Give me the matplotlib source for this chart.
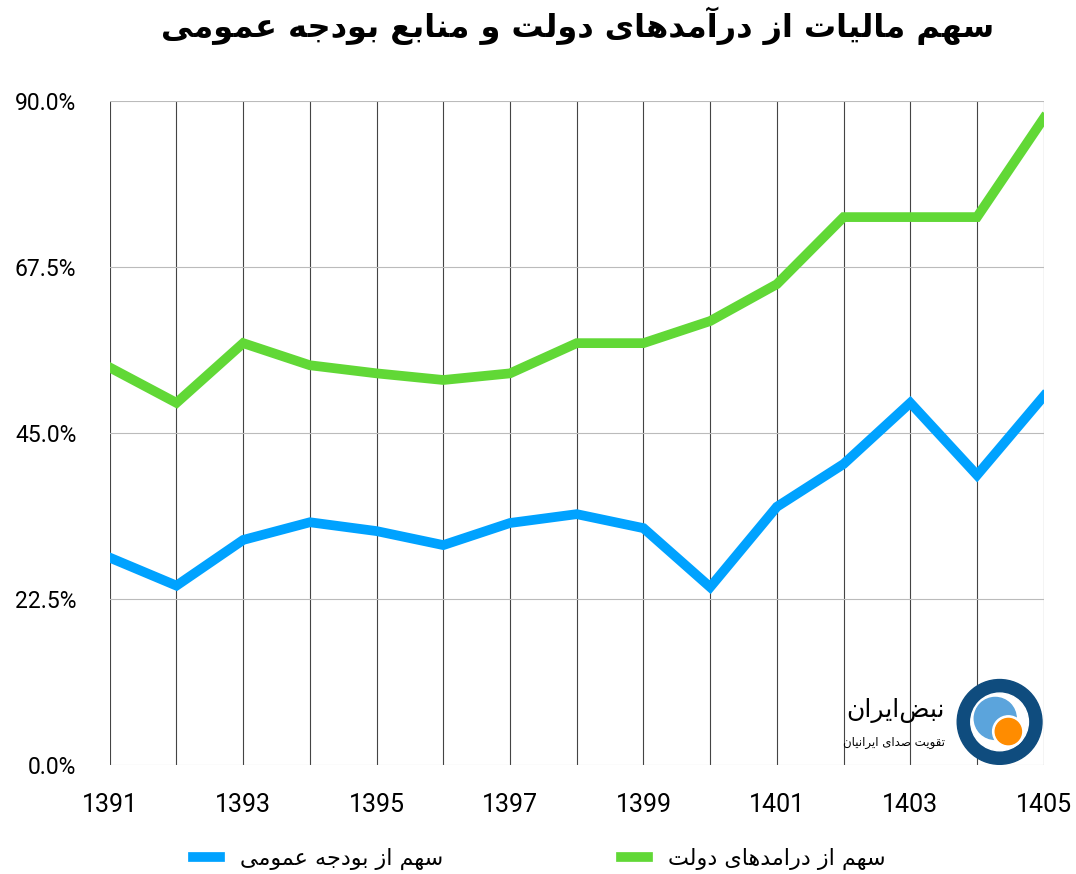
import matplotlib
matplotlib.use("Agg")
import matplotlib.pyplot as plt
from matplotlib.patches import Circle

years = list(range(1391, 1406))
revenue_share = [53.9, 49.1, 57.2, 54.2, 53.1, 52.2, 53.1, 57.2, 57.2, 60.2, 65.2, 74.3, 74.3, 74.3, 87.7]
budget_share = [28.1, 24.3, 30.5, 32.9, 31.7, 29.8, 32.8, 34.0, 32.1, 24.1, 35.0, 40.8, 49.1, 39.3, 50.0]
y_ticks = [0, 22.5, 45, 67.5, 90]

title = "سهم مالیات از درآمدهای دولت و منابع بودجه عمومی"
label_budget = "سهم از بودجه عمومی"
label_revenue = "سهم از درامدهای دولت"
logo_name = "نبض\u200cایران"
logo_tag = "تقویت صدای ایرانیان"

# ── minimal Arabic-script shaper (matplotlib has no shaping) ──────────────────
FORMS = {  # isolated, final, initial, medial
    "ا": (0xFE8D, 0xFE8E), "آ": (0xFE81, 0xFE82), "د": (0xFEA9, 0xFEAA),
    "ر": (0xFEAD, 0xFEAE), "ز": (0xFEAF, 0xFEB0), "و": (0xFEED, 0xFEEE),
    "ب": (0xFE8F, 0xFE90, 0xFE91, 0xFE92), "ت": (0xFE95, 0xFE96, 0xFE97, 0xFE98),
    "ج": (0xFE9D, 0xFE9E, 0xFE9F, 0xFEA0), "س": (0xFEB1, 0xFEB2, 0xFEB3, 0xFEB4),
    "ص": (0xFEB9, 0xFEBA, 0xFEBB, 0xFEBC), "ض": (0xFEBD, 0xFEBE, 0xFEBF, 0xFEC0),
    "ع": (0xFEC9, 0xFECA, 0xFECB, 0xFECC), "ف": (0xFED1, 0xFED2, 0xFED3, 0xFED4),
    "ق": (0xFED5, 0xFED6, 0xFED7, 0xFED8), "ل": (0xFEDD, 0xFEDE, 0xFEDF, 0xFEE0),
    "م": (0xFEE1, 0xFEE2, 0xFEE3, 0xFEE4), "ن": (0xFEE5, 0xFEE6, 0xFEE7, 0xFEE8),
    "ه": (0xFEE9, 0xFEEA, 0xFEEB, 0xFEEC), "ي": (0xFEF1, 0xFEF2, 0xFEF3, 0xFEF4),
    "ی": (0xFBFC, 0xFBFD, 0xFBFE, 0xFBFF),
}


def shape(text):
    out = []
    n = len(text)
    for i, c in enumerate(text):
        if c not in FORMS:
            if c != "\u200c":
                out.append(c)
            continue
        f = FORMS[c]
        prev = text[i - 1] if i > 0 else ""
        nxt = text[i + 1] if i + 1 < n else ""
        jp = prev in FORMS and len(FORMS[prev]) == 4
        jn = len(f) == 4 and nxt in FORMS
        if jp and jn:
            out.append(chr(f[3]))
        elif jp:
            out.append(chr(f[1]))
        elif jn:
            out.append(chr(f[2]))
        else:
            out.append(chr(f[0]))
    return "".join(out)[::-1]


plt.rcParams["font.family"] = ["DejaVu Sans"]

fig = plt.figure(figsize=(10.76, 8.74), dpi=100)
ax = fig.add_axes([0.102, 0.125, 0.868, 0.759])

ax.plot(years, budget_share, color="#00A2FF", lw=7, solid_joinstyle="miter",
        label=shape(label_budget), zorder=3)
ax.plot(years, revenue_share, color="#61D836", lw=7, solid_joinstyle="miter",
        label=shape(label_revenue), zorder=3)

ax.set_xlim(1391, 1405)
ax.set_ylim(0, 90)
ax.set_xticks(years)
ax.set_xticklabels([str(y) if (y - 1391) % 2 == 0 else "" for y in years],
                   fontfamily="Roboto", fontsize=18)
ax.set_yticks(y_ticks)
ax.set_yticklabels([f"{v:.1f}%" for v in y_ticks], fontfamily="Roboto", fontsize=16.5)
ax.tick_params(axis="y", length=0, pad=24)
ax.tick_params(axis="x", length=0, pad=20)
ax.grid(axis="x", color="#444444", lw=0.8)
ax.grid(axis="y", color="#bbbbbb", lw=0.8)
for s in ax.spines.values():
    s.set_visible(False)

fig.text(0.537, 0.971, shape(title), ha="center", va="center", fontsize=23,
         fontweight="bold")

ax.legend(loc="upper center", bbox_to_anchor=(0.46, -0.095), ncol=2, frameon=False,
          fontsize=16, handlelength=1.2, handletextpad=0.9, columnspacing=8)

# logo
lax = fig.add_axes([0.888, 0.124, 0.082, 0.1])
lax.set_aspect("equal")
lax.set_xlim(-1, 1)
lax.set_ylim(-1, 1)
lax.axis("off")
lax.add_patch(Circle((0, 0), 0.97, color="#0F4C7E"))
lax.add_patch(Circle((0, 0), 0.66, color="white"))
lax.add_patch(Circle((-0.1, 0.08), 0.48, color="#5BA4DC"))
lax.add_patch(Circle((0.2, -0.22), 0.36, color="white"))
lax.add_patch(Circle((0.2, -0.22), 0.3, color="#FF8C00"))
fig.text(0.878, 0.187, shape(logo_name), ha="right", va="center", fontsize=18)
fig.text(0.878, 0.151, shape(logo_tag), ha="right", va="center", fontsize=8.5)

fig.savefig("out.png", dpi=100)
